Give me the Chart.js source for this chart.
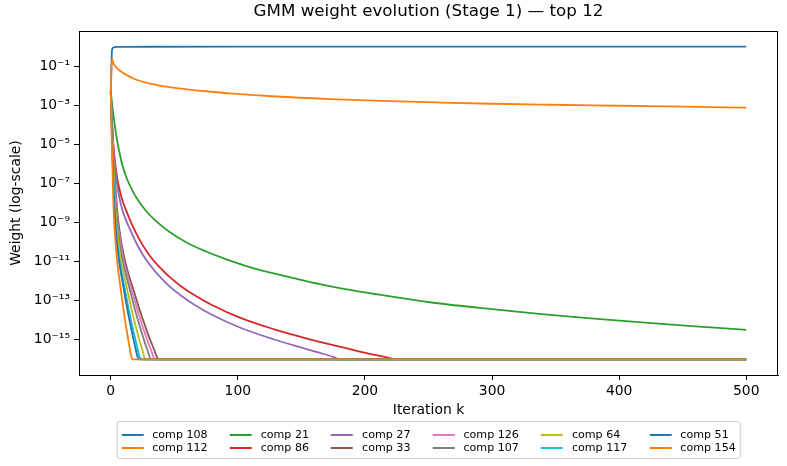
<!DOCTYPE html>
<html>
<head>
<meta charset="utf-8">
<title>GMM weight evolution</title>
<script src="https://cdn.jsdelivr.net/npm/chart.js@4.4.1/dist/chart.umd.min.js"></script>
<style>
  html, body { margin: 0; padding: 0; background: #fff; }
  #wrap { position: relative; width: 787px; height: 466px; }
  #legend {
    position: absolute; left: 428.5px; top: 421px; transform: translateX(-50%);
    display: grid; grid-template-rows: repeat(2, 13px); grid-auto-flow: column;
    column-gap: 22px; padding: 6px 4px 4px 4px;
    border: 1px solid #cccccc; border-radius: 3px; background: rgba(255,255,255,0.8);
    font: 11.1px "DejaVu Sans", sans-serif; color: #000; white-space: nowrap;
  }
  #legend .item { display: flex; align-items: center; }
  #legend .handle { width: 22px; height: 0; border-top: 2px solid; margin-right: 9px; }
</style>
</head>
<body>
<div id="wrap">
  <canvas id="gmmChart" width="787" height="466"></canvas>
  <div id="legend"></div>
</div>
<script>
'use strict';

// legend order, same as the matplotlib plot
var components = ['comp 108', 'comp 112', 'comp 21', 'comp 86', 'comp 27', 'comp 33',
                  'comp 126', 'comp 107', 'comp 64', 'comp 117', 'comp 51', 'comp 154'];
var colors = ['#1f77b4', '#ff7f0e', '#2ca02c', '#d62728', '#9467bd', '#8c564b',
              '#e377c2', '#7f7f7f', '#bcbd22', '#17becf', '#1f77b4', '#ff7f0e'];

var xTicks = [0, 100, 200, 300, 400, 500];
var yTickExponents = [-15, -13, -11, -9, -7, -5, -3, -1];

// [iteration, weight] (weights are clipped at 1e-16)
var w108 = [[0, 5e-3], [1, 0.7], [2, 0.9], [3, 0.95], [5, 0.975], [10, 0.985], [30, 0.99],
            [100, 0.995], [300, 0.998], [500, 0.999]];
var w112 = [[0, 5e-3], [1, 0.234], [2, 0.151], [3, 0.112], [4, 0.0912], [5, 0.0776], [7, 0.0603],
            [10, 0.0437], [13, 0.0339], [17, 0.0251], [22, 0.0186], [30, 0.0132], [45, 8.7e-3],
            [60, 6.6e-3], [75, 5.25e-3], [96, 3.98e-3], [130, 2.82e-3], [172, 2.09e-3], [220, 1.62e-3],
            [260, 1.38e-3], [300, 1.2e-3], [345, 1.07e-3], [400, 9.5e-4], [450, 8.5e-4], [500, 7.6e-4]];
var w21 = [[0, 5e-3], [1, 1.26e-3], [2, 3.55e-4], [3, 1.12e-4], [4, 3.98e-5], [5, 1.58e-5], [6, 7.1e-6],
           [7, 3.4e-6], [9, 9.3e-7], [12, 2.29e-7], [17, 4.27e-8], [22, 1.23e-8], [28, 3.8e-9],
           [35, 1.29e-9], [46, 3.4e-10], [60, 9.3e-11], [75, 3.3e-11], [90, 1.38e-11], [110, 5.1e-12],
           [130, 2.34e-12], [170, 5.9e-13], [210, 2.09e-13], [254, 7.9e-14], [300, 3.7e-14],
           [339, 2.09e-14], [380, 1.23e-14], [423, 7.4e-15], [460, 4.9e-15], [500, 3.24e-15]];
var w86 = [[0, 5e-3], [1, 1.0e-4], [2, 1.0e-5], [3, 2.0e-6], [4, 5.6e-7], [5, 2.0e-7], [6, 8.9e-8],
           [8, 2.5e-8], [10, 9.5e-9], [12, 4.3e-9], [15, 1.41e-9], [20, 2.8e-10], [25, 7.2e-11],
           [31, 1.9e-11], [38, 5.5e-12], [46, 1.7e-12], [56, 5.1e-13], [67, 1.74e-13], [80, 5.9e-14],
           [101, 1.41e-14], [128, 3.55e-15], [150, 1.38e-15], [170, 6.3e-16], [195, 2.6e-16],
           [210, 1.58e-16], [222, 1.07e-16], [224, 1e-16], [500, 1e-16]];
var w27 = [[0, 5e-3], [1, 7.9e-5], [2, 6.3e-6], [3, 1.12e-6], [4, 2.8e-7], [5, 8.9e-8], [6, 3.55e-8],
           [8, 8.3e-9], [11, 1.9e-9], [15, 4.7e-10], [20, 9.3e-11], [25, 2.4e-11], [31, 6.5e-12],
           [38, 1.86e-12], [46, 5.6e-13], [56, 1.7e-13], [67, 5.5e-14], [80, 1.86e-14], [101, 4.4e-15],
           [128, 1.07e-15], [150, 3.98e-16], [165, 2.1e-16], [176, 1.26e-16], [180, 1e-16], [500, 1e-16]];
var w33 = [[0, 5e-3], [1, 1.74e-4], [2, 6.6e-6], [3, 3.7e-7], [5, 4.8e-9], [7, 3.3e-10], [10, 2.5e-11],
           [14, 2.3e-12], [18, 3.4e-13], [22, 4.7e-14], [26, 8.1e-15], [30, 1.45e-15], [34, 3.3e-16],
           [37, 1.07e-16], [38, 1e-16], [500, 1e-16]];
var w126 = [[0, 5e-3], [1, 1.35e-4], [2, 4.3e-6], [3, 2e-7], [5, 2.1e-9], [7, 1.78e-10], [10, 1.26e-11],
            [13, 2.2e-12], [17, 2.7e-13], [21, 3.3e-14], [25, 5e-15], [29, 8.5e-16], [33, 1.7e-16],
            [34, 1.12e-16], [35, 1e-16], [500, 1e-16]];
var w107 = [[0, 5e-3], [1, 9.3e-5], [2, 2.3e-6], [3, 7.6e-8], [5, 1.05e-9], [7, 9.8e-11], [9, 1.45e-11],
            [12, 2.04e-12], [15, 3.7e-13], [19, 3.55e-14], [23, 4.5e-15], [27, 6.6e-16], [30, 1.78e-16],
            [31, 1.15e-16], [32, 1e-16], [500, 1e-16]];
var w64 = [[0, 5e-3], [1, 5e-5], [2, 7.9e-7], [3, 2.34e-8], [4, 1.82e-9], [6, 1.02e-10], [8, 1.12e-11],
           [10, 2.75e-12], [13, 3.55e-13], [17, 2.45e-14], [21, 2.24e-15], [24, 4.7e-16], [26, 1.66e-16],
           [27, 1e-16], [500, 1e-16]];
var w117 = [[0, 5e-3], [1, 2.5e-5], [2, 2.24e-7], [3, 6.8e-9], [4, 6.3e-10], [6, 2.8e-11], [8, 4.5e-12],
            [11, 4.2e-13], [14, 4e-14], [17, 4.9e-15], [20, 7.1e-16], [23, 1.2e-16], [24, 1e-16], [500, 1e-16]];
var w51 = [[0, 5e-3], [1, 1.58e-5], [2, 1e-7], [3, 3.16e-9], [4, 3.5e-10], [6, 1.86e-11], [8, 2.6e-12],
           [10, 4.8e-13], [13, 3.7e-14], [16, 3.9e-15], [19, 5e-16], [21, 1.38e-16], [22, 1e-16], [500, 1e-16]];
var w154 = [[0, 5e-3], [1, 4.0e-6], [2, 1.26e-8], [3, 4.5e-10], [4, 6.3e-11], [5, 1e-11], [7, 1e-12],
            [9, 1e-13], [12, 5e-15], [15, 3.5e-16], [16, 1.58e-16], [17, 1e-16], [500, 1e-16]];

var series = [w108, w112, w21, w86, w27, w33, w126, w107, w64, w117, w51, w154];

var FONT = '"DejaVu Sans", sans-serif';
var SUP = {'-': '\u207B', '0': '\u2070', '1': '\u00B9', '2': '\u00B2', '3': '\u00B3', '4': '\u2074',
           '5': '\u2075', '6': '\u2076', '7': '\u2077', '8': '\u2078', '9': '\u2079'};

function powerLabel(v) {
    var e = String(Math.round(Math.log10(v)));
    return '10' + e.split('').map(function(c) { return SUP[c]; }).join('');
}

// the four spines around the plot area
var frame = {
    id: 'frame',
    afterDatasetsDraw: function(chart) {
        var a = chart.chartArea, ctx = chart.ctx;
        ctx.save();
        ctx.strokeStyle = '#000';
        ctx.lineWidth = 1;
        ctx.strokeRect(Math.round(a.left) + 0.5, Math.round(a.top) + 0.5,
                       Math.round(a.right - a.left) - 1, Math.round(a.bottom - a.top));
        ctx.restore();
    }
};

var datasets = series.map(function(pts, i) {
    return {
        label: components[i],
        data: pts.map(function(p) { return {x: p[0], y: p[1]}; }),
        borderColor: colors[i],
        backgroundColor: colors[i],
        borderWidth: 1.8,
        pointRadius: 0,
        fill: false,
        cubicInterpolationMode: 'monotone',
        order: series.length - i   // later series drawn on top
    };
});

new Chart(document.getElementById('gmmChart'), {
    type: 'line',
    data: {datasets: datasets},
    plugins: [frame],
    options: {
        responsive: false,
        animation: false,
        events: [],
        layout: {padding: {left: 0, right: 9, top: 0, bottom: 46}},
        plugins: {
            legend: {display: false},
            tooltip: {enabled: false},
            title: {
                display: true,
                fullSize: false,
                text: 'GMM weight evolution (Stage 1) \u2014 top 12',
                color: '#000',
                font: {family: FONT, size: 16.7, weight: 'normal'},
                padding: {top: 2, bottom: 9}
            }
        },
        scales: {
            x: {
                type: 'linear',
                min: -25,
                max: 525,
                afterBuildTicks: function(scale) {
                    scale.ticks = xTicks.map(function(v) { return {value: v}; });
                },
                afterFit: function(scale) { scale.height = 45; },
                ticks: {color: '#000', font: {family: FONT, size: 13.9}, padding: 3, maxRotation: 0},
                grid: {drawOnChartArea: false, drawTicks: true, tickLength: 5, tickColor: '#000'},
                border: {display: true, color: '#000', width: 1},
                title: {display: true, text: 'Iteration k', color: '#000',
                        font: {family: FONT, size: 13.9}, padding: {top: 0, bottom: 1}}
            },
            y: {
                type: 'logarithmic',
                min: Math.pow(10, -16.8),
                max: Math.pow(10, 0.8),
                afterBuildTicks: function(scale) {
                    scale.ticks = yTickExponents.map(function(e) { return {value: Math.pow(10, e)}; });
                },
                afterFit: function(scale) { scale.width = 79; },
                ticks: {color: '#000', font: {family: FONT, size: 13.9}, padding: 4, callback: powerLabel},
                grid: {drawOnChartArea: false, drawTicks: true, tickLength: 5, tickColor: '#000'},
                border: {display: true, color: '#000', width: 1},
                title: {display: true, text: 'Weight (log-scale)', color: '#000',
                        font: {family: FONT, size: 13.9}, padding: {top: 8, bottom: 0}}
            }
        }
    }
});

// matplotlib style legend: 6 columns, filled column by column
var legend = document.getElementById('legend');
components.forEach(function(name, i) {
    var item = document.createElement('div');
    item.className = 'item';
    var handle = document.createElement('span');
    handle.className = 'handle';
    handle.style.borderTopColor = colors[i];
    var text = document.createElement('span');
    text.textContent = name;
    item.appendChild(handle);
    item.appendChild(text);
    legend.appendChild(item);
});
</script>
</body>
</html>
